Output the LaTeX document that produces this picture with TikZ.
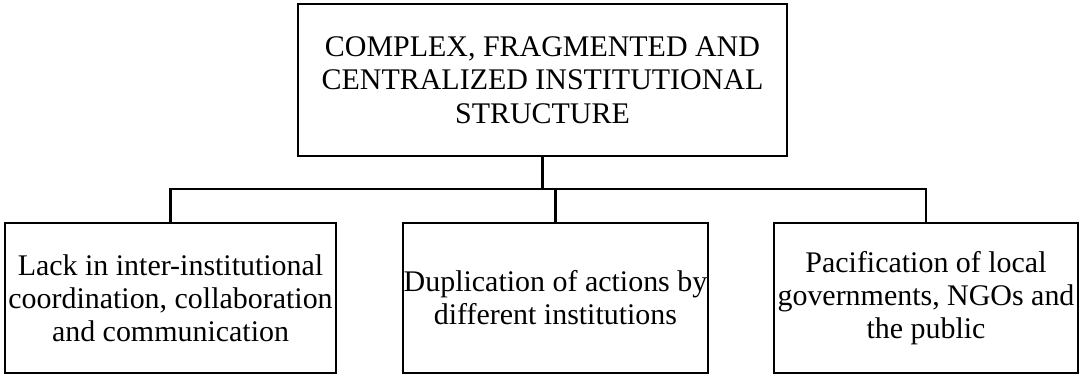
\documentclass[tikz,border=0pt]{standalone}
\usepackage{fontspec}
\setmainfont{Liberation Serif}
\usepackage{tikz}
\usetikzlibrary{calc}
\def\lw{1.8pt}

\begin{document}
\begin{tikzpicture}[line cap=rect,
	box/.style={draw=black, line width=\lw, align=center, inner sep=0pt,
		font=\fontsize{21.3}{23.6}\selectfont},
	link/.style={draw=black, line width=\lw}]

	\useasboundingbox (0,0) rectangle (27,9.45);

	\coordinate (bus) at (0,4.725);

	% top box
	\node[box, minimum width=12.23cm, minimum height=3.8cm] (structure) at (13.5625,7.444)
		{COMPLEX, FRAGMENTED AND\\CENTRALIZED INSTITUTIONAL\\STRUCTURE};

	% the three consequences
	\node[box, minimum width=8.28cm, minimum height=3.76cm] (coordination) at (4.2625,2.0)
		{Lack in inter-institutional\\coordination, collaboration\\and communication};
	\node[box, minimum width=7.63cm, minimum height=3.76cm] (duplication) at (13.8875,2.0)
		{Duplication of actions by\\different institutions};
	\node[box, minimum width=7.6cm, minimum height=3.76cm] (pacification) at (23.15,2.0)
		{Pacification of local\\governments, NGOs and\\the public};

	\draw[link] (structure.south) -- (structure.south |- bus);
	\draw[link] (coordination.north) -- (coordination.north |- bus) -- (pacification.north |- bus) -- (pacification.north);
	\draw[link] (duplication.north) -- (duplication.north |- bus);

\end{tikzpicture}
\end{document}
